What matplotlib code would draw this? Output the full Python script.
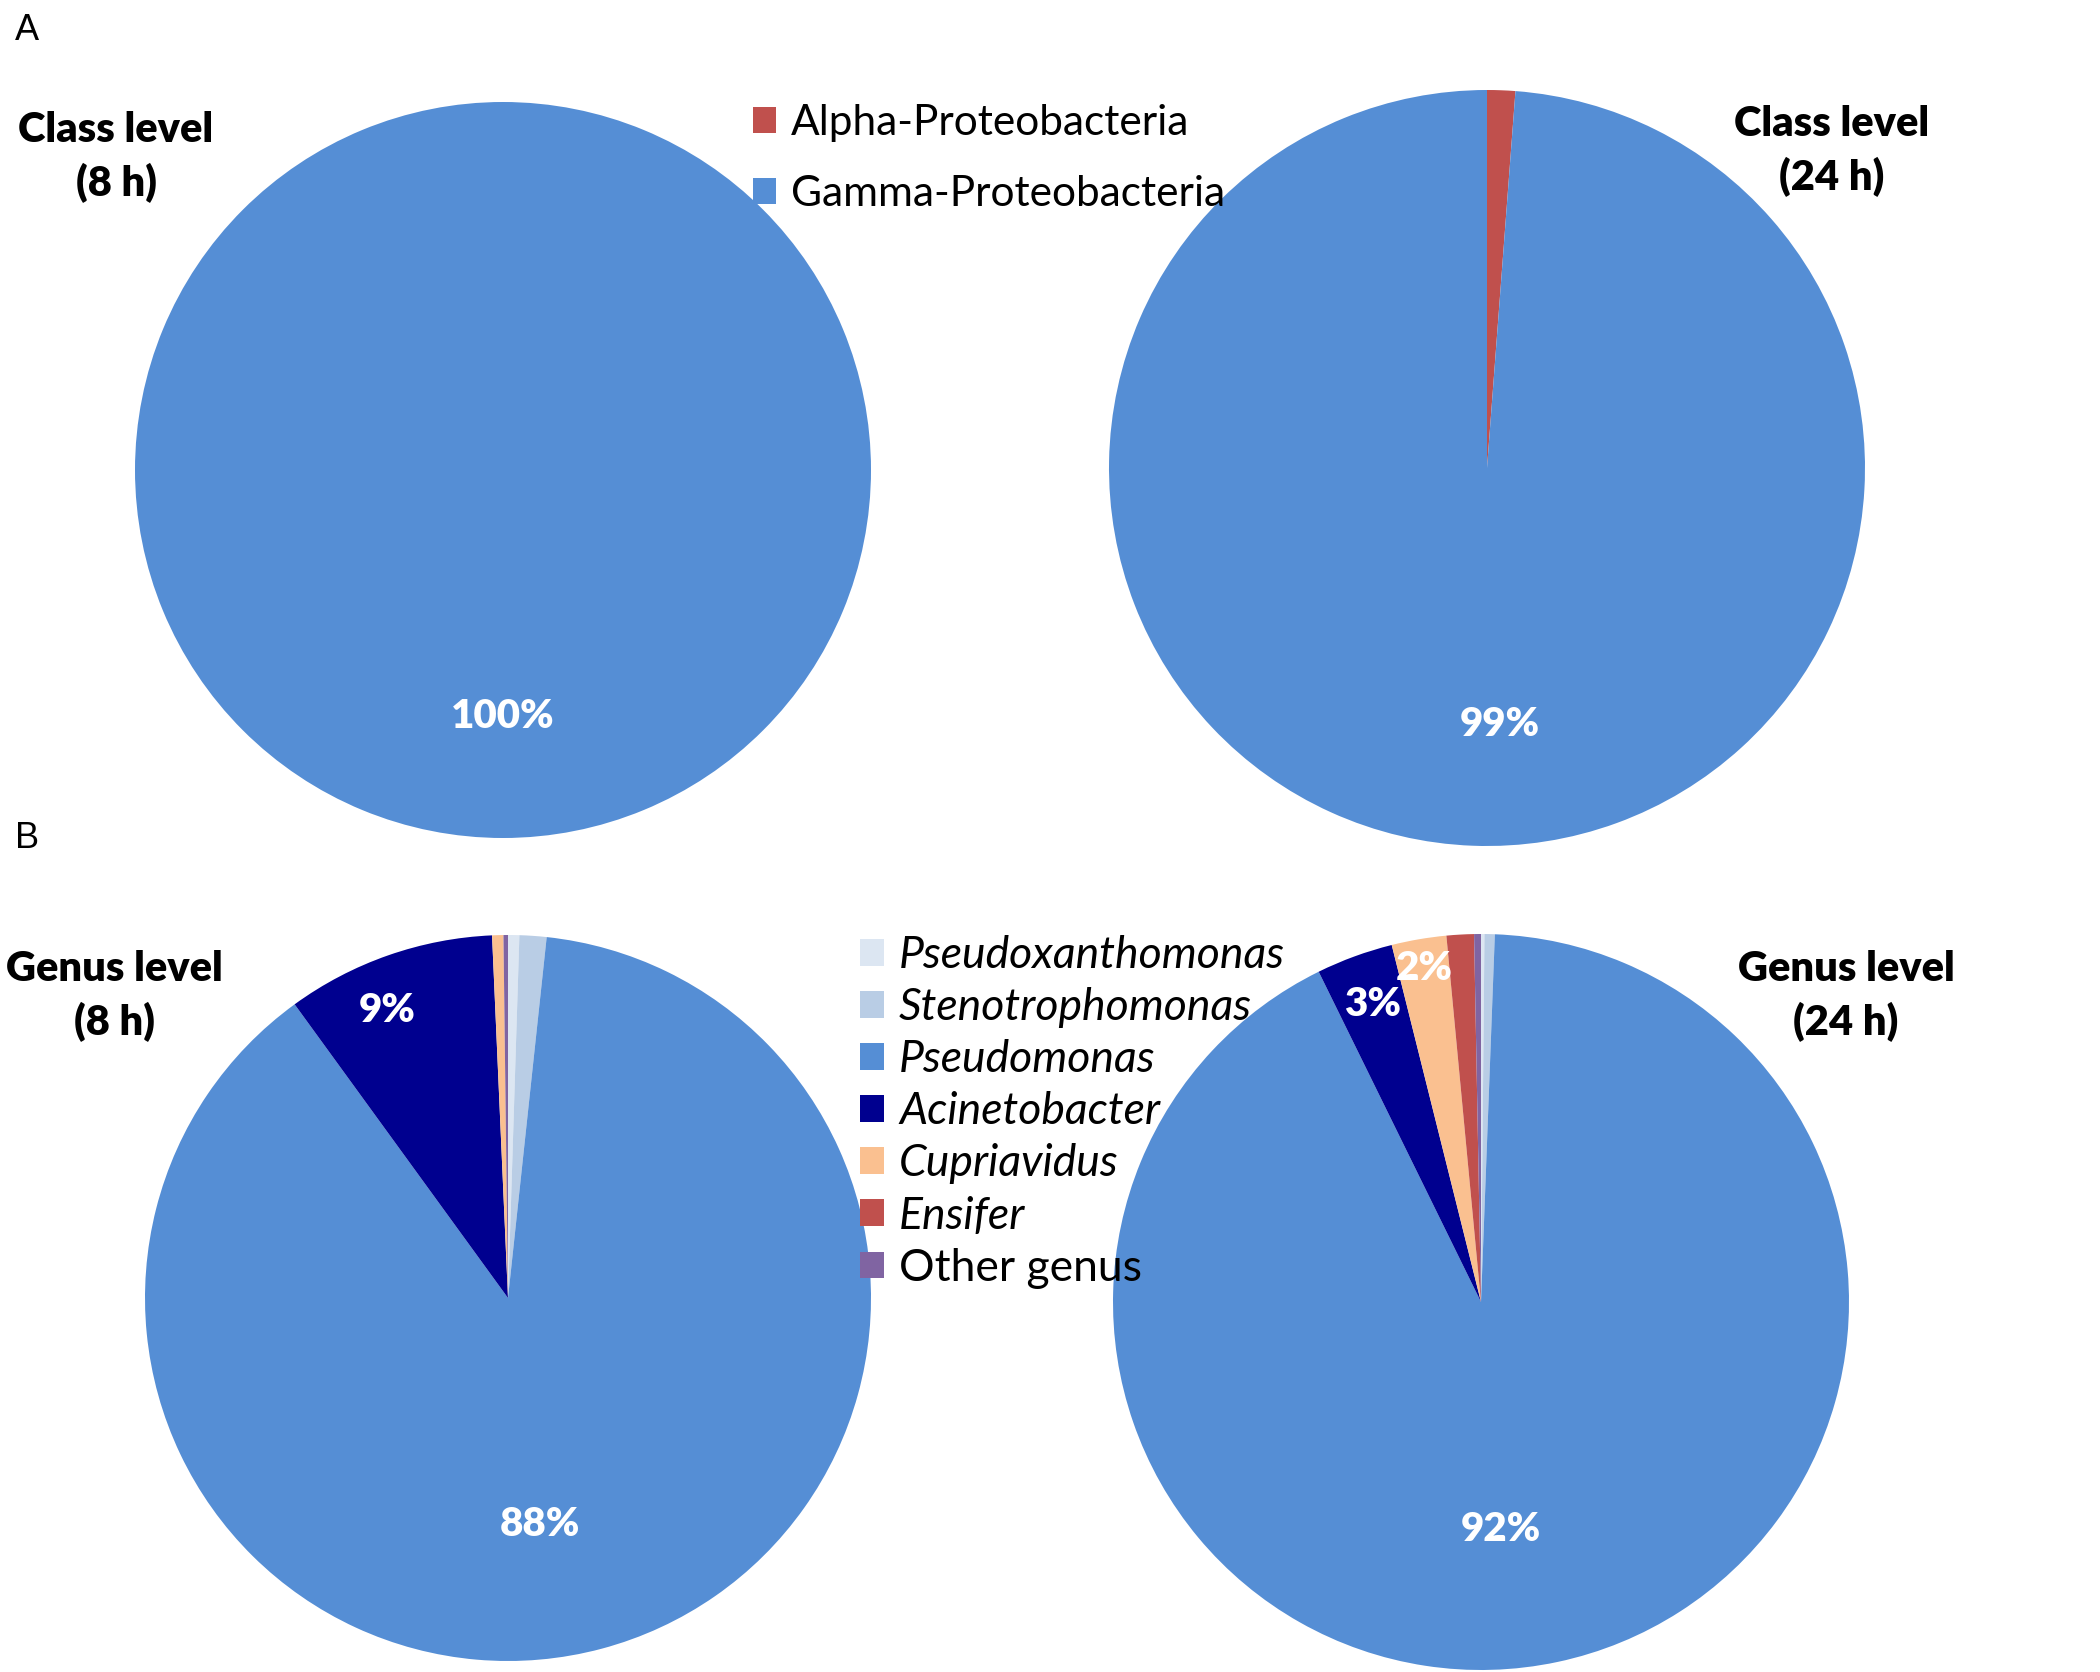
import numpy as np
import matplotlib
matplotlib.use("Agg")
import matplotlib.pyplot as plt
from matplotlib.patches import Patch

# ---------------- data ----------------
class_labels = ["Alpha-Proteobacteria", "Gamma-Proteobacteria"]
class_8h = [0.0, 100.0]
class_24h = [1.2, 98.8]

genus_labels = ["Pseudoxanthomonas", "Stenotrophomonas", "Pseudomonas",
                "Acinetobacter", "Cupriavidus", "Ensifer", "Other genus"]
genus_italic = [True, True, True, True, True, True, False]
genus_8h = [0.5, 1.2, 88.3, 9.3, 0.5, 0.0, 0.2]
genus_24h = [0.15, 0.45, 92.13, 3.37, 2.4, 1.2, 0.3]

panel_letters = ["A", "B"]
titles = ["Class level\n(8 h)", "Class level\n(24 h)",
          "Genus level\n(8 h)", "Genus level\n(24 h)"]

# ---------------- style ----------------
class_colors = ["#C0504D", "#558ED5"]
genus_colors = ["#DCE6F2", "#B9CDE5", "#558ED5", "#00008F",
                "#FAC090", "#C0504D", "#8064A2"]

W, H = 2100, 1672
DPI = 100
FONT = "Lato"
HEAVY = "heavy"

fig = plt.figure(figsize=(W / DPI, H / DPI), dpi=DPI)
fig.patch.set_facecolor("white")


def fx(x):
    return x / W


def fy(y):
    return 1 - y / H


def pie_axes(cx, cy, r):
    return fig.add_axes([(cx - r) / W, 1 - (cy + r) / H, 2 * r / W, 2 * r / H])


def draw_pie(ax, values, colors, big_offset=0.0, big_dist=0.63, small_offset=0.0):
    wedges, _ = ax.pie(values, colors=colors, startangle=90, counterclock=False,
                       radius=1, wedgeprops=dict(linewidth=0))
    total = float(sum(values))
    for w, v in zip(wedges, values):
        pct = 100 * v / total
        if pct < 2:
            continue
        mid = (w.theta1 + w.theta2) / 2
        if pct > 50:
            dist = big_dist
            mid += big_offset
        elif pct >= 3:
            dist = 0.86
            mid += small_offset
        else:
            dist = 0.92
        th = np.deg2rad(mid)
        ax.text(dist * np.cos(th), dist * np.sin(th), f"{pct:.0f}%",
                ha="center", va="center", color="white", fontsize=29,
                fontweight=HEAVY, family=FONT)
    ax.set_xlim(-1, 1)
    ax.set_ylim(-1, 1)
    ax.set_aspect("equal")
    ax.axis("off")


ax1 = pie_axes(503, 470, 368)
draw_pie(ax1, class_8h, class_colors, big_dist=0.67)
ax2 = pie_axes(1487, 468, 378)
draw_pie(ax2, class_24h, class_colors, big_offset=5, big_dist=0.68)
ax3 = pie_axes(508, 1298, 363)
draw_pie(ax3, genus_8h, genus_colors, big_offset=-7, big_dist=0.63, small_offset=3.5)
ax4 = pie_axes(1481, 1302, 368)
draw_pie(ax4, genus_24h, genus_colors, big_offset=-7, big_dist=0.62)

# panel letters
fig.text(fx(15), fy(31), panel_letters[0], ha="left", va="center",
         fontsize=26, family="Liberation Sans")
fig.text(fx(15), fy(838), panel_letters[1], ha="left", va="center",
         fontsize=26, family="Liberation Sans")

# titles
title_pos = [(116, 157), (1832, 151), (114, 996), (1846, 996)]
for t, (x, y) in zip(titles, title_pos):
    fig.text(fx(x), fy(y), t, ha="center", va="center", fontsize=30,
             fontweight=HEAVY, family=FONT, linespacing=1.45)

# legends
h1 = [Patch(facecolor=c, edgecolor="none") for c in class_colors]
leg1 = fig.legend(h1, class_labels, loc="upper left",
                  bbox_to_anchor=(fx(753), fy(104)), frameon=False,
                  borderpad=0, borderaxespad=0, handlelength=0.55,
                  handleheight=0.55, handletextpad=0.35, labelspacing=0.78,
                  prop=dict(family=FONT, size=30.5))

h2 = [Patch(facecolor=c, edgecolor="none") for c in genus_colors]
leg2 = fig.legend(h2, genus_labels, loc="upper left",
                  bbox_to_anchor=(fx(860), fy(935)), frameon=False,
                  borderpad=0, borderaxespad=0, handlelength=0.55,
                  handleheight=0.55, handletextpad=0.33, labelspacing=0.25,
                  prop=dict(family=FONT, size=32))
for txt, it in zip(leg2.get_texts(), genus_italic):
    if it:
        txt.set_style("italic")

fig.savefig("out.png", dpi=DPI, facecolor="white")
